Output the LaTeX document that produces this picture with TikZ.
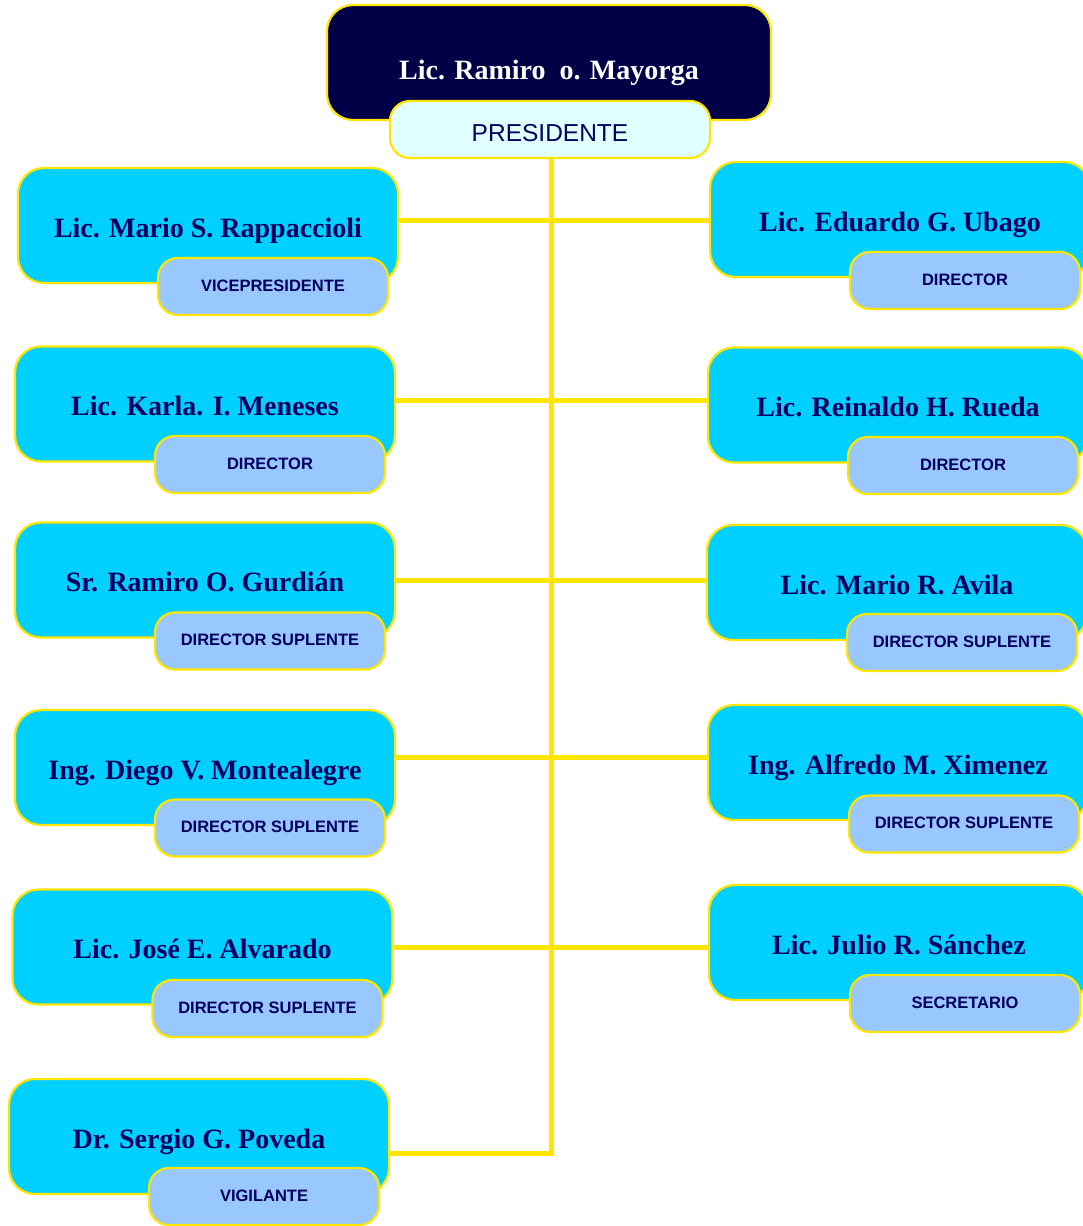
\documentclass[tikz,border=0pt]{standalone}
\usepackage{fontspec}
\setmainfont{Liberation Serif}
\newfontfamily\labfont{Liberation Sans}
\definecolor{boxcyan}{RGB}{0,208,255}
\definecolor{subblue}{RGB}{153,199,255}
\definecolor{linkyellow}{RGB}{255,230,0}
\definecolor{navy}{RGB}{0,0,70}
\definecolor{inkblue}{RGB}{0,0,96}
\definecolor{paleblue}{RGB}{224,255,255}
\begin{document}
\begin{tikzpicture}[x=1pt,y=-1pt,
  link/.style={draw=linkyellow,line width=5pt},
  personbox/.style={draw=linkyellow,line width=2.2pt,fill=boxcyan,rounded corners=26pt,
    minimum width=380pt,minimum height=115pt,inner sep=0pt,
    text height=23pt,text depth=0pt,
    text=inkblue,font=\fontsize{28}{32}\selectfont\bfseries},
  rolebox/.style={draw=linkyellow,line width=2.2pt,fill=subblue,rounded corners=20pt,
    minimum width=230pt,minimum height=57pt,inner sep=0pt,
    text height=9pt,text depth=0pt,
    text=inkblue,font=\labfont\fontsize{16.5}{19}\selectfont\bfseries}]
\useasboundingbox (0,0) rectangle (1083,1226);
\clip (0,0) rectangle (1083,1226);
\fill[white] (0,0) rectangle (1083,1226);

% president
\node[draw=linkyellow,line width=2.2pt,fill=navy,rounded corners=26pt,
  minimum width=444pt,minimum height=115pt,inner sep=0pt] (top) at (549,62.5) {};
\node[text=white,inner sep=0pt,text height=23pt,text depth=0pt,
  font=\fontsize{28}{32}\selectfont\bfseries] (topname) at (549,67.5) {Lic. Ramiro\ \ o. Mayorga};
\node[draw=linkyellow,line width=2.2pt,fill=paleblue,rounded corners=20pt,
  minimum width=320pt,minimum height=57pt,inner sep=0pt,text=inkblue,
  text height=24.5pt,text depth=0pt,
  font=\labfont\fontsize{24.5}{28}\selectfont] (pres) at (550,129.5) {PRESIDENTE};

% points on the trunk where the branches meet it
\coordinate (t1) at (551,220);
\coordinate (t2) at (551,400);
\coordinate (t3) at (551,580);
\coordinate (t4) at (551,757);
\coordinate (t5) at (551,947);
\coordinate (tb) at (551,1153);

% left column
\node[personbox] (l1) at (208,225.5) {Lic. Mario S. Rappaccioli};
\node[personbox] (l2) at (205,404) {Lic. Karla. I. Meneses};
\node[personbox] (l3) at (205,580) {Sr. Ramiro O. Gurdián};
\node[personbox] (l4) at (205,767.5) {Ing. Diego V. Montealegre};
\node[personbox] (l5) at (202.5,947) {Lic. José E. Alvarado};
\node[personbox] (l6) at (199,1136.5) {Dr. Sergio G. Poveda};

% right column
\node[personbox] (r1) at (900,219.5) {Lic. Eduardo G. Ubago};
\node[personbox] (r2) at (898,405) {Lic. Reinaldo H. Rueda};
\node[personbox] (r3) at (897,582.5) {Lic. Mario R. Avila};
\node[personbox] (r4) at (898,762.5) {Ing. Alfredo M. Ximenez};
\node[personbox] (r5) at (899,942.5) {Lic. Julio R. Sánchez};

% connectors
\draw[link] (pres.south -| tb) -- (tb) -- (tb -| l6.east);
\draw[link] (l1.east |- t1) -- (r1.west |- t1);
\draw[link] (l2.east |- t2) -- (r2.west |- t2);
\draw[link] (l3.east |- t3) -- (r3.west |- t3);
\draw[link] (l4.east |- t4) -- (r4.west |- t4);
\draw[link] (l5.east |- t5) -- (r5.west |- t5);

% role tags
\node[rolebox] (l1r) at (273,286.5) {VICEPRESIDENTE};
\node[rolebox] (l2r) at (270,464.5) {DIRECTOR};
\node[rolebox] (l3r) at (270,641) {DIRECTOR SUPLENTE};
\node[rolebox] (l4r) at (270,828) {DIRECTOR SUPLENTE};
\node[rolebox] (l5r) at (267.5,1008.5) {DIRECTOR SUPLENTE};
\node[rolebox] (l6r) at (264,1196.5) {VIGILANTE};
\node[rolebox] (r1r) at (965,280.5) {DIRECTOR};
\node[rolebox] (r2r) at (963,465.5) {DIRECTOR};
\node[rolebox] (r3r) at (962,642.5) {DIRECTOR SUPLENTE};
\node[rolebox] (r4r) at (964,824) {DIRECTOR SUPLENTE};
\node[rolebox] (r5r) at (965,1003.5) {SECRETARIO};
\end{tikzpicture}
\end{document}
